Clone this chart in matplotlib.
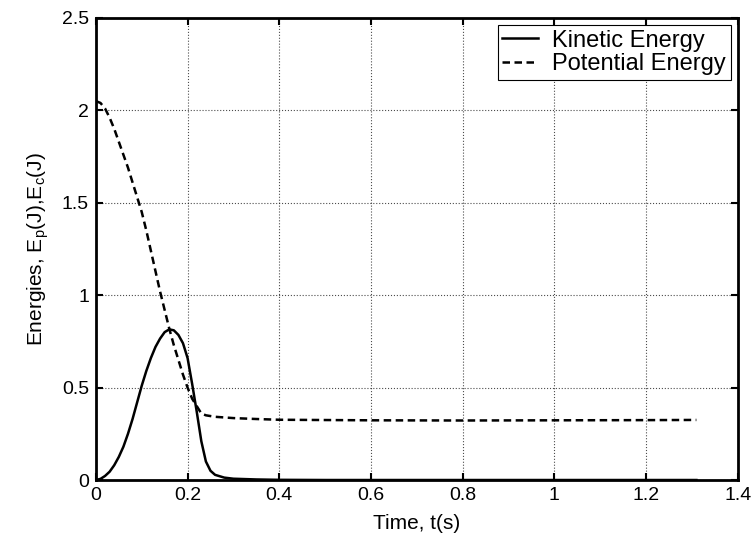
import matplotlib
matplotlib.use("Agg")
import matplotlib.pyplot as plt

plt.rcParams['font.family'] = ['Liberation Sans', 'DejaVu Sans']
plt.rcParams['mathtext.fontset'] = 'custom'
plt.rcParams['mathtext.rm'] = 'Liberation Sans'
plt.rcParams['mathtext.it'] = 'Liberation Sans'

t_pe = [0, 0.01, 0.02, 0.03, 0.04, 0.05, 0.06, 0.07, 0.08, 0.09, 0.10, 0.11, 0.12,
        0.13, 0.14, 0.15, 0.16, 0.17, 0.18, 0.19, 0.20, 0.21, 0.22, 0.23, 0.24,
        0.26, 0.30, 0.35, 0.40, 0.60, 0.80, 1.00, 1.20, 1.31]
pe = [2.05, 2.04, 2.01, 1.96, 1.90, 1.83, 1.76, 1.69, 1.61, 1.53, 1.45, 1.35, 1.24,
      1.13, 1.02, 0.92, 0.82, 0.73, 0.65, 0.57, 0.50, 0.44, 0.40, 0.36, 0.35,
      0.342, 0.335, 0.33, 0.326, 0.323, 0.322, 0.323, 0.324, 0.325]

t_ke = [0, 0.01, 0.02, 0.03, 0.04, 0.05, 0.06, 0.07, 0.08, 0.09, 0.10, 0.11, 0.12,
        0.13, 0.14, 0.15, 0.16, 0.17, 0.18, 0.19, 0.20, 0.21, 0.22, 0.23, 0.24,
        0.25, 0.26, 0.28, 0.30, 0.35, 0.40, 0.50, 1.31]
ke = [0, 0.006, 0.022, 0.045, 0.08, 0.125, 0.18, 0.25, 0.33, 0.42, 0.51, 0.59, 0.66,
      0.72, 0.765, 0.80, 0.815, 0.81, 0.785, 0.74, 0.66, 0.52, 0.37, 0.21, 0.10,
      0.05, 0.028, 0.013, 0.007, 0.003, 0.001, 0.0, 0.0]

xticks = [0, 0.2, 0.4, 0.6, 0.8, 1, 1.2, 1.4]
xticklabels = ['0', '0.2', '0.4', '0.6', '0.8', '1', '1.2', '1.4']
yticks = [0, 0.5, 1, 1.5, 2, 2.5]
yticklabels = ['0', '0.5', '1', '1.5', '2', '2.5']

fig = plt.figure(figsize=(7.55, 5.43), dpi=100)
ax = fig.add_axes([0.127, 0.116, 0.85, 0.851])

ax.plot(t_ke, ke, color='black', lw=1.8, linestyle='-', label='Kinetic Energy')
ax.plot(t_pe, pe, color='black', lw=1.8, linestyle=(0, (3.0, 1.8)), label='Potential Energy')

ax.set_xlim(0, 1.4)
ax.set_ylim(0, 2.5)
ax.set_xticks(xticks)
ax.set_xticklabels(xticklabels)
ax.set_yticks(yticks)
ax.set_yticklabels(yticklabels)
ax.tick_params(direction='in', top=True, right=True, length=5, width=1.5, labelsize=14, pad=5)
ax.grid(True, linestyle=':', color='black', linewidth=0.8, alpha=0.7)
for s in ax.spines.values():
    s.set_linewidth(2)

ax.set_xlabel('Time, t(s)', fontsize=15, labelpad=7)
ax.set_ylabel('Energies, E$_\\mathrm{p}$(J),E$_\\mathrm{c}$(J)', fontsize=15, labelpad=8)

leg = ax.legend(loc='upper right', fontsize=17, frameon=True, fancybox=False,
                edgecolor='black', framealpha=1, handlelength=1.5, handletextpad=0.6,
                borderpad=0.2, labelspacing=0.05, borderaxespad=0.3)
leg.get_frame().set_linewidth(0.8)

fig.savefig('out.png', dpi=100)
